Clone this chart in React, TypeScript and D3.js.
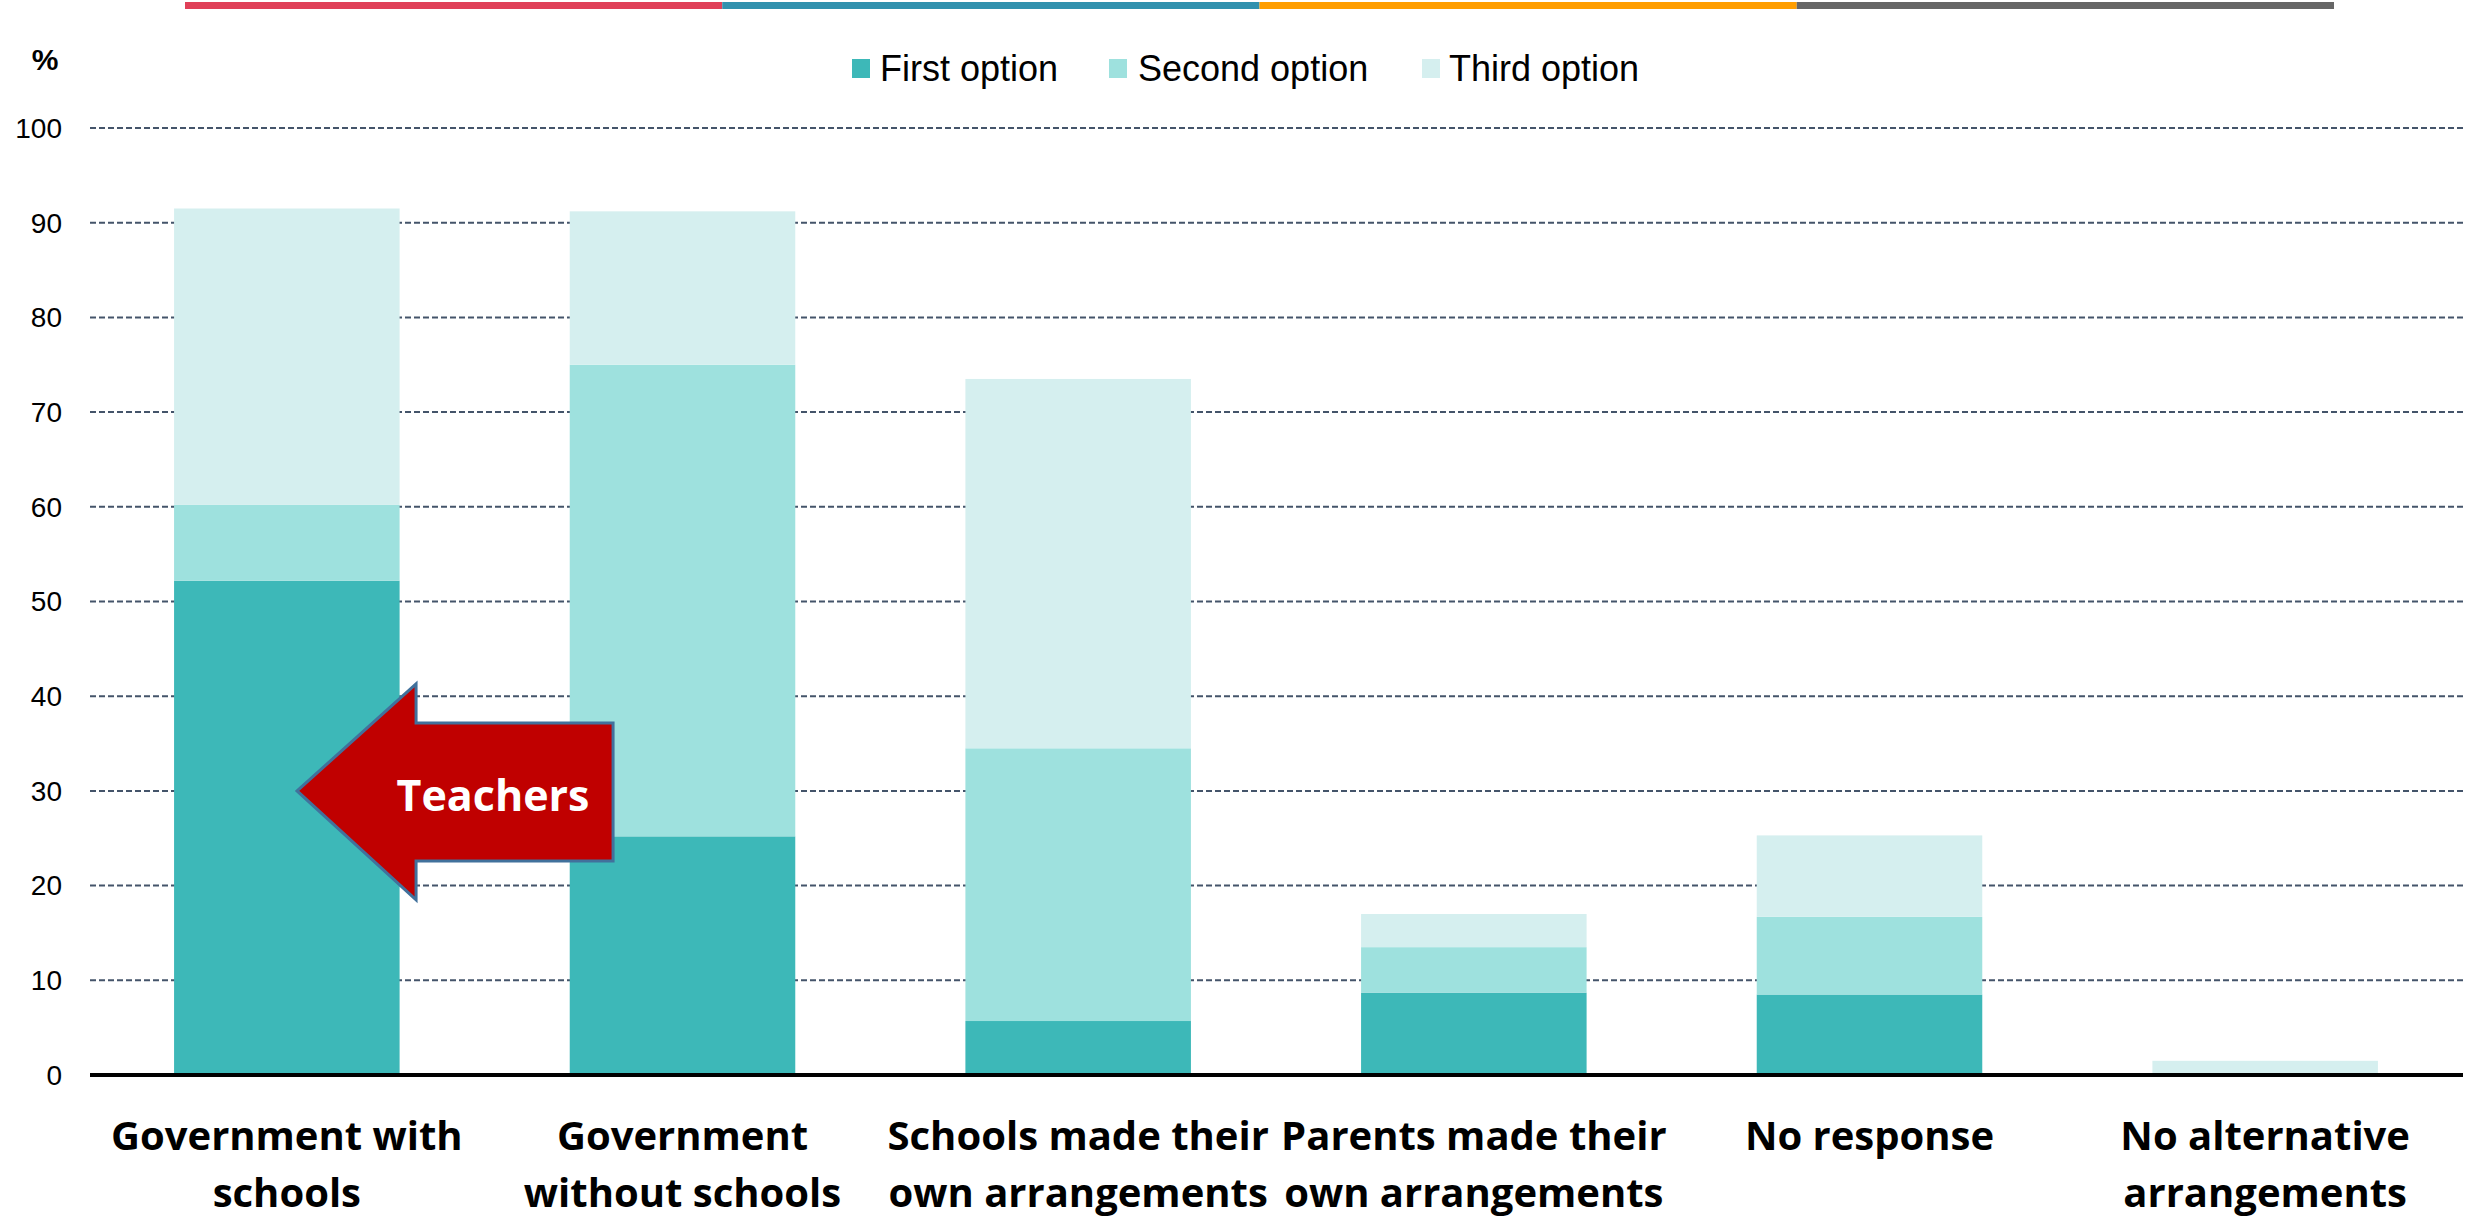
import React from "react";
import * as d3 from "d3";

const categories = [
  "Government with schools",
  "Government without schools",
  "Schools made their own arrangements",
  "Parents made their own arrangements",
  "No response",
  "No alternative arrangements",
];
const categoryLines = [
  ["Government with", "schools"],
  ["Government", "without schools"],
  ["Schools made their", "own arrangements"],
  ["Parents made their", "own arrangements"],
  ["No response"],
  ["No alternative", "arrangements"],
];
const seriesNames = ["First option", "Second option", "Third option"];
const firstOption = [52.2, 25.2, 5.7, 8.7, 8.5, 0];
const secondOption = [8.0, 49.8, 28.8, 4.8, 8.2, 0];
const thirdOption = [31.3, 16.2, 39.0, 3.5, 8.6, 1.5];
const yTicks = [0, 10, 20, 30, 40, 50, 60, 70, 80, 90, 100];
const seriesColors = ["#3DB8B8", "#9EE1DE", "#D5EFEF"];
const topStripeColors = ["#E04058", "#3191AE", "#FF9E00", "#666666"];

const W = 2476;
const H = 1219;

export default function App() {
  const x = d3
    .scaleBand<string>()
    .domain(categories)
    .range([89, 2463])
    .paddingInner(0.43)
    .paddingOuter(0.215);
  const y = d3.scaleLinear().domain([0, 100]).range([1075, 128]);

  const rows = categories.map((c, i) => ({
    cat: c,
    s0: firstOption[i],
    s1: secondOption[i],
    s2: thirdOption[i],
  }));
  const stack = d3.stack<any>().keys(["s0", "s1", "s2"]);
  const layers = stack(rows);

  const stripeX = d3.scaleLinear().domain([0, 4]).range([185, 2334]);

  const legendItems = [
    { sx: 852, tx: 880 },
    { sx: 1109, tx: 1138 },
    { sx: 1422, tx: 1449 },
  ];

  const x0 = x(categories[0])!;
  const tipY = y(30);
  const arrowPts = [
    [x0 + 123, tipY],
    [x0 + 242, tipY - 107],
    [x0 + 242, tipY - 68],
    [x0 + 439, tipY - 68],
    [x0 + 439, tipY + 70],
    [x0 + 242, tipY + 70],
    [x0 + 242, tipY + 109],
  ];

  return (
    <svg
      width={W}
      height={H}
      style={{ position: "absolute", left: 0, top: 0, background: "#fff" }}
    >
      {topStripeColors.map((c, i) => (
        <rect
          key={c}
          x={stripeX(i)}
          y={2}
          width={stripeX(i + 1) - stripeX(i)}
          height={7}
          fill={c}
        />
      ))}
      <text
        x={45}
        y={70}
        textAnchor="middle"
        fontFamily="Liberation Sans, Arial, sans-serif"
        fontWeight="bold"
        fontSize={30}
      >
        %
      </text>
      {seriesNames.map((n, i) => (
        <g key={n}>
          <rect x={legendItems[i].sx} y={59} width={18} height={19} fill={seriesColors[i]} />
          <text
            x={legendItems[i].tx}
            y={81}
            fontFamily="Liberation Sans, Arial, sans-serif"
            fontSize={36}
            fill="#000"
          >
            {n}
          </text>
        </g>
      ))}
      {yTicks.map((t) => (
        <g key={t}>
          {t > 0 && (
            <line
              x1={90}
              x2={2463}
              y1={y(t)}
              y2={y(t)}
              stroke="#44546A"
              strokeWidth={2}
              strokeDasharray="6,3"
            />
          )}
          <text
            x={62}
            y={y(t)}
            dy="0.35em"
            textAnchor="end"
            fontFamily="Liberation Sans, Arial, sans-serif"
            fontSize={28}
            fill="#000"
          >
            {t}
          </text>
        </g>
      ))}
      {layers.map((layer, li) => (
        <g key={li} fill={seriesColors[li]}>
          {layer.map((d, i) =>
            d[1] - d[0] > 0 ? (
              <rect
                key={i}
                x={x(categories[i])}
                y={y(d[1])}
                width={x.bandwidth()}
                height={y(d[0]) - y(d[1])}
              />
            ) : null
          )}
        </g>
      ))}
      <line x1={90} x2={2463} y1={y(0)} y2={y(0)} stroke="#000" strokeWidth={4} />
      {categories.map((c, i) => (
        <text
          key={c}
          x={x(c)! + x.bandwidth() / 2}
          textAnchor="middle"
          fontFamily="Open Sans, sans-serif"
          fontWeight="bold"
          fontSize={40}
          fill="#000"
        >
          {categoryLines[i].map((l, j) => (
            <tspan key={j} x={x(c)! + x.bandwidth() / 2} y={1150 + j * 57}>
              {l}
            </tspan>
          ))}
        </text>
      ))}
      <polygon
        points={arrowPts.map((p) => p.join(",")).join(" ")}
        fill="#C00000"
        stroke="#41719C"
        strokeWidth={3}
        strokeLinejoin="miter"
      />
      <text
        x={493}
        y={tipY + 20}
        textAnchor="middle"
        fontFamily="Open Sans, sans-serif"
        fontWeight="bold"
        fontSize={43}
        fill="#fff"
      >
        Teachers
      </text>
    </svg>
  );
}
